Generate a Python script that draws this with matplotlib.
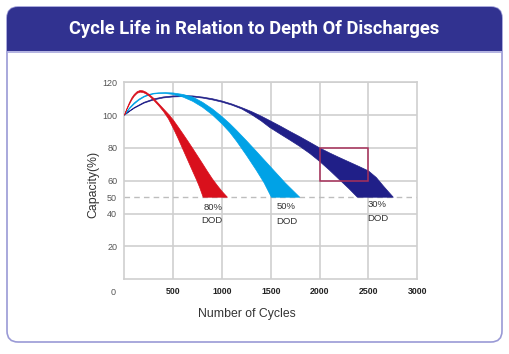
import numpy as np
import matplotlib
matplotlib.use("Agg")
import matplotlib.pyplot as plt
from matplotlib.patches import FancyBboxPatch, Rectangle

# ---------------- data ----------------
title = "Cycle Life in Relation to Depth Of Discharges"
x_ticks = [500, 1000, 1500, 2000, 2500, 3000]
y_ticks = [20, 40, 50, 60, 80, 100, 120]
dod_names = ["80%", "50%", "30%"]

# 80% DOD band (red): outer / inner edge of the band
red_outer_x = [0, 25, 50, 75, 100, 130, 160, 190, 220, 260, 300, 350, 400, 452, 500, 550, 600,
               650, 700, 750, 800, 850, 900, 950, 1000, 1054]
red_outer_y = [100, 104, 107.5, 110.5, 112.6, 114.3, 115, 114.8, 114, 112.3, 110.2, 107, 103.8,
               100.5, 97, 92.8, 88.5, 84.1, 79.6, 75, 70.4, 65.7, 61.2, 57.2, 53.5, 50]
red_inner_x = [0, 25, 50, 75, 100, 130, 160, 190, 220, 260, 300, 350, 400, 450, 500, 550, 585,
               650, 700, 738, 770, 806]
red_inner_y = [100, 103.5, 106.5, 109.3, 111.5, 113.3, 114, 113.8, 113, 111.3, 109, 105.8, 102.2,
               97.8, 92, 85.7, 81, 72.3, 65.6, 60.6, 56, 50]

# 50% DOD band (light blue)
lb_outer_x = [0, 50, 100, 150, 200, 250, 300, 350, 420, 500, 600, 700, 800, 900, 1000, 1079,
              1150, 1250, 1350, 1450, 1550, 1650, 1720, 1795]
lb_outer_y = [100, 104.3, 107.5, 109.8, 111.5, 112.6, 113.3, 113.6, 113.7, 113.5, 112.6, 111,
              107.8, 103.8, 99, 94.8, 90.6, 84.4, 78, 71.5, 65, 58.5, 54.4, 50]
lb_inner_x = [0, 50, 100, 150, 200, 250, 300, 350, 420, 500, 600, 700, 800, 900, 1000, 1079,
              1150, 1250, 1350, 1430, 1505]
lb_inner_y = [100, 103.8, 106.8, 109.2, 111, 112.2, 112.9, 113.2, 113.2, 112.6, 111, 108.4, 104.8,
              100.2, 94.6, 89.5, 84, 75.5, 66.5, 58.8, 50]

# 30% DOD band (dark blue)
db_outer_x = [0, 50, 100, 200, 300, 400, 500, 600, 700, 800, 900, 1000, 1100, 1200, 1300, 1400,
              1488, 1600, 1700, 1795, 1900, 2000, 2100, 2200, 2300, 2400, 2500, 2580, 2650, 2700,
              2754]
db_outer_y = [100, 102.5, 104.6, 107.8, 109.9, 111.1, 111.7, 111.9, 111.7, 111, 110, 108.6, 106.8,
              104.6, 102.2, 99.4, 96.7, 93.2, 89.9, 86.9, 83.4, 80, 77, 74.2, 71.5, 68.8, 66, 62,
              57, 53.6, 50]
db_inner_x = [0, 50, 100, 200, 300, 400, 500, 600, 700, 800, 900, 1000, 1100, 1200, 1300, 1400,
              1488, 1600, 1700, 1795, 1900, 2000, 2100, 2204, 2300, 2386]
db_inner_y = [100, 102.2, 104.2, 107.3, 109.3, 110.5, 111.1, 111.3, 111.1, 110.4, 109.3, 107.9,
              106.1, 103.8, 100.4, 96.5, 92.5, 88.3, 84.6, 81, 76.6, 71.8, 66.5, 60.6, 55.2, 50]

# highlighted region
box_x = [2000, 2500]
box_y = [60, 80]

# ---------------- figure ----------------
W, H = 510, 354
fig = plt.figure(figsize=(W / 100, H / 100), dpi=100)
fig.patch.set_facecolor("white")

bg = fig.add_axes([0, 0, 1, 1])
bg.set_xlim(0, W)
bg.set_ylim(H, 0)
bg.axis("off")

card = FancyBboxPatch((7, 7), 495, 335, boxstyle="round,pad=0,rounding_size=11",
                      facecolor="white", edgecolor="#9a9ad6", lw=1.2)
bg.add_patch(card)
head = FancyBboxPatch((7, 7), 495, 44, boxstyle="round,pad=0,rounding_size=11",
                      facecolor="#313290", edgecolor="none")
bg.add_patch(head)
bg.add_patch(Rectangle((7, 30), 495, 21, facecolor="#313290", edgecolor="none"))
bg.plot([7.5, 501.5], [51.5, 51.5], color="#a6a6dc", lw=1.2)
bg.text(254.5, 28.5, title, color="white", ha="center", va="center",
        fontsize=13.2, fontweight="bold", family=["Roboto", "DejaVu Sans"])

# ---------------- chart ----------------
left, right = 124.5, 417.3
top, bottom = 82.3, 279.3
ax = fig.add_axes([left / W, 1 - bottom / H, (right - left) / W, (bottom - top) / H])
ax.set_xlim(0, 3000)
ax.set_ylim(0, 120)
ax.set_facecolor("none")

grid_c = "#cfcfcf"
for s in ax.spines.values():
    s.set_color(grid_c)
    s.set_linewidth(1.2)
for xv in x_ticks[:-1]:
    ax.axvline(xv, color=grid_c, lw=1.2, zorder=0)
for yv in y_ticks:
    if yv == 50:
        continue
    ax.axhline(yv, color=grid_c, lw=1.2, zorder=0)
ax.axhline(50, color="#bdbdbd", lw=1.0, ls=(0, (4, 3)), zorder=1)


def band(ox, oy, ix, iy, color):
    xs = np.concatenate([np.asarray(ox, float), np.asarray(ix, float)[::-1]])
    ys = np.concatenate([np.asarray(oy, float), np.asarray(iy, float)[::-1]])
    ax.fill(xs, ys, color=color, lw=0.5, ec=color, zorder=3, joinstyle="round")


band(db_outer_x, db_outer_y, db_inner_x, db_inner_y, "#201f88")
band(lb_outer_x, lb_outer_y, lb_inner_x, lb_inner_y, "#00a2e6")
band(red_outer_x, red_outer_y, red_inner_x, red_inner_y, "#d9101c")

ax.add_patch(Rectangle((box_x[0], box_y[0]), box_x[1] - box_x[0], box_y[1] - box_y[0],
                       fill=False, edgecolor="#a8305a", lw=1.1, zorder=4))

ax.set_xticks(x_ticks)
ax.set_xticklabels([str(v) for v in x_ticks], fontsize=6.3, fontweight="bold",
                   color="#222222", family="Liberation Sans")
ax.set_yticks(y_ticks)
ax.set_yticklabels([str(v) for v in y_ticks], fontsize=6.5, color="#555555",
                   family="Liberation Sans")
ax.tick_params(axis="x", length=0, pad=5.5)
ax.tick_params(axis="y", length=0, pad=5.3)
ax.text(-95, -8.2, "0", fontsize=6.5, color="#555555", ha="right", va="center",
        family="Liberation Sans")

ax.set_xlabel("Number of Cycles", fontsize=8.8, color="#333333", family="Liberation Sans")
ax.xaxis.set_label_coords((246.7 - left) / (right - left), (bottom - 308) / (bottom - top))
ax.set_ylabel("Capacity(%)", fontsize=8.8, color="#333333", family="Liberation Sans")
ax.yaxis.set_label_coords((99.5 - left) / (right - left), (bottom - 184) / (bottom - top))

# DOD labels
label_pos = [(910, 43.8, 895, 35.6), (1660, 44.3, 1662, 35.3), (2588, 45.4, 2600, 36.8)]
for name, (x1, y1, x2, y2) in zip(dod_names, label_pos):
    ax.text(x1, y1, name, fontsize=6.8, color="#333333", ha="center", va="center",
            family="Liberation Sans", zorder=5)
    ax.text(x2, y2, "DOD", fontsize=6.8, color="#333333", ha="center", va="center",
            family="Liberation Sans", zorder=5)

fig.savefig("out.png", dpi=100)
